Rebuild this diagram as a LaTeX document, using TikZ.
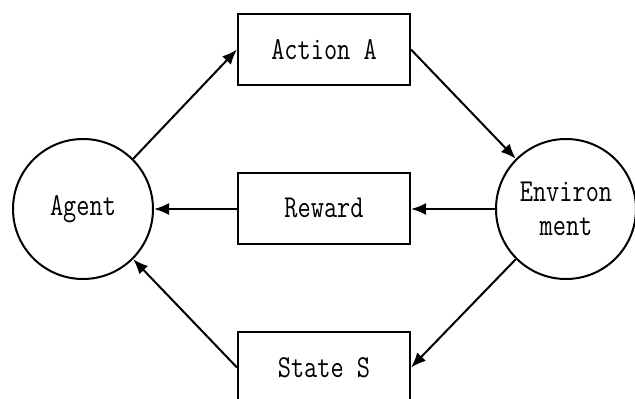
\documentclass[tikz,border=0pt]{standalone}
\usepackage{graphicx}
\usetikzlibrary{arrows.meta}
\newcommand{\lab}[1]{\scalebox{0.8}[1]{#1}}
\tikzset{
  every node/.style={font=\fontsize{32}{34}\fontseries{l}\selectfont\ttfamily},
  circ/.style={draw, circle, line width=2pt, minimum size=140pt, inner sep=0pt},
  rbox/.style={draw, rectangle, line width=2pt, minimum width=172pt, minimum height=71pt, inner sep=0pt},
  conn/.style={line width=2pt, -{Latex[length=15pt,width=12pt]}}
}
\begin{document}
\begin{tikzpicture}[x=1pt,y=-1pt]
\useasboundingbox (0,0) rectangle (635,399);
\node[circ] (agent) at (83,209) {\lab{Agent}};
\node[circ] (env) at (566,209) {};
\node[align=center] (envtxt) at (566,209) {\lab{Environ}\\\lab{ment}};
\node[rbox] (action) at (324,49.5) {\lab{Action A}};
\node[rbox] (reward) at (324,208) {\lab{Reward}};
\node[rbox] (state) at (324,367.5) {\lab{State S}};
\draw[conn] (agent.45) -- (action.west);
\draw[conn] (action.east) -- (env.135);
\draw[conn] (env.west) -- (env.west -| reward.east);
\draw[conn] (reward.west |- agent.east) -- (agent.east);
\draw[conn] (env.225) -- (state.east);
\draw[conn] (state.west) -- (agent.315);
\end{tikzpicture}
\end{document}
